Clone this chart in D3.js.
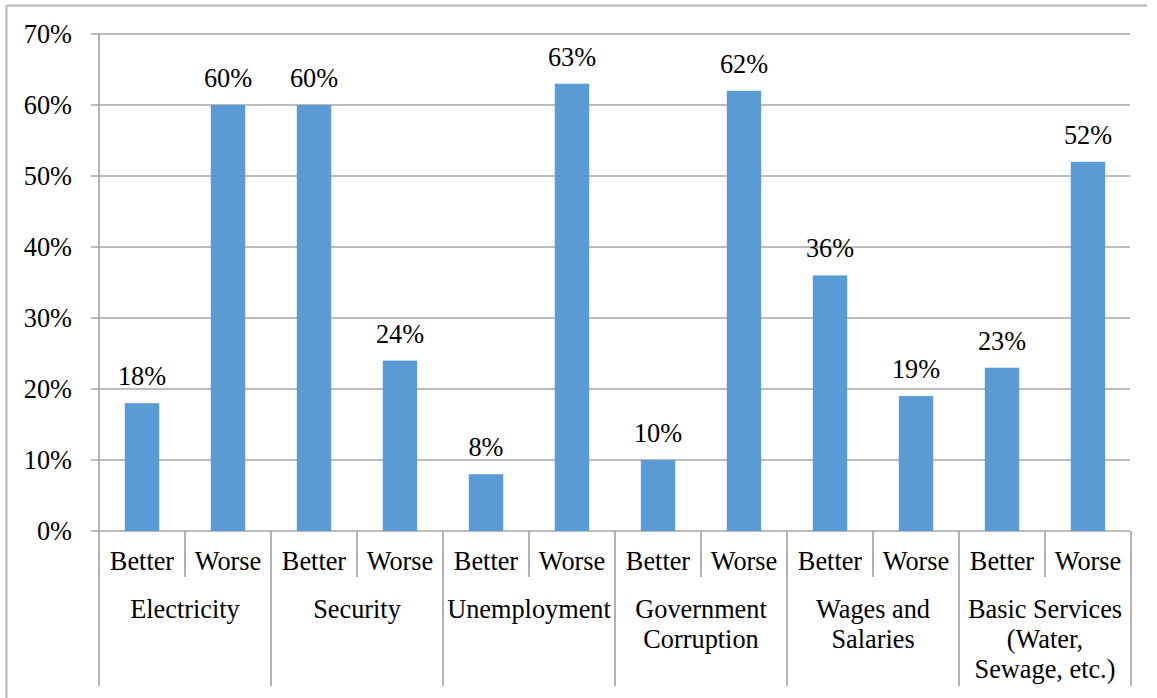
<!DOCTYPE html>
<html><head><meta charset="utf-8">
<script src="https://cdn.jsdelivr.net/npm/d3@7"></script>
<style>body{margin:0;background:#fff}svg{display:block}</style>
</head><body>
<svg id="c" width="1157" height="698"></svg>
<script>
const groups = ["Electricity","Security","Unemployment","Government Corruption","Wages and Salaries","Basic Services (Water, Sewage, etc.)"];
const groupLines = [["Electricity"],["Security"],["Unemployment"],["Government","Corruption"],["Wages and","Salaries"],["Basic Services","(Water,","Sewage, etc.)"]];
const subs = ["Better","Worse"];
const values = [18,60,60,24,8,63,10,62,36,19,23,52];
const yTicks = [0,10,20,30,40,50,60,70];

const svg = d3.select("#c");
const L=99, R=1131, T=34, B=531;
const fs = 26.3;
const FF = "'Liberation Serif'";
function txt(sel){ return sel.style("font-family",FF).attr("font-size",fs).attr("fill","#000"); }

// outer border (top and left only visible)
svg.append("line").attr("x1",6.5).attr("x2",1147).attr("y1",5.5).attr("y2",5.5).attr("stroke","#b4b4b4").attr("stroke-width",2);
svg.append("line").attr("x1",6.5).attr("x2",6.5).attr("y1",5.5).attr("y2",698).attr("stroke","#b4b4b4").attr("stroke-width",2);

const cats = [];
groups.forEach((g,i)=>subs.forEach(s=>cats.push(i+"|"+s)));
const x = d3.scaleBand().domain(cats).range([L,R]).paddingInner(0.6).paddingOuter(0.3);
const slot = (R-L)/cats.length;
const y = d3.scaleLinear().domain([0,70]).range([B,T]);

// gridlines
svg.append("g").selectAll("line").data(yTicks).join("line")
  .attr("x1",L-8).attr("x2",R-1).attr("y1",d=>y(d)).attr("y2",d=>y(d))
  .attr("stroke","#a6a6a6").attr("stroke-width",1.7);

// y labels
txt(svg.append("g").selectAll("text").data(yTicks).join("text")
  .attr("x",72).attr("y",d=>y(d)+9).attr("text-anchor","end"))
  .text(d=>d+"%");

// bars
svg.append("g").selectAll("rect").data(values).join("rect")
  .attr("x",(d,i)=>x(cats[i])).attr("width",x.bandwidth())
  .attr("y",d=>y(d)).attr("height",d=>B-y(d)).attr("fill","#5b9bd5");

// data labels
txt(svg.append("g").selectAll("text").data(values).join("text")
  .attr("x",(d,i)=>x(cats[i])+x.bandwidth()/2).attr("y",d=>y(d)-18)
  .attr("text-anchor","middle")).text(d=>d+"%");

// y axis line
svg.append("line").attr("x1",L).attr("x2",L).attr("y1",T).attr("y2",686).attr("stroke","#a6a6a6").attr("stroke-width",1.7);

// category separators and labels
const gw = (R-L)/groups.length;
groups.forEach((g,i)=>{
  const gx = L + gw*(i+1);
  svg.append("line").attr("x1",gx).attr("x2",gx).attr("y1",B).attr("y2",686).attr("stroke","#a6a6a6").attr("stroke-width",1.7);
  const mx = L + gw*i + gw/2;
  svg.append("line").attr("x1",mx).attr("x2",mx).attr("y1",B).attr("y2",577).attr("stroke","#a6a6a6").attr("stroke-width",1.7);
  subs.forEach((s,j)=>{
    txt(svg.append("text").attr("x",L+gw*i+slot*(j+0.5)).attr("y",570).attr("text-anchor","middle")).text(s);
  });
  groupLines[i].forEach((ln,k)=>{
    txt(svg.append("text").attr("x",mx).attr("y",618+k*30).attr("text-anchor","middle")).text(ln);
  });
});
</script>
</body></html>
